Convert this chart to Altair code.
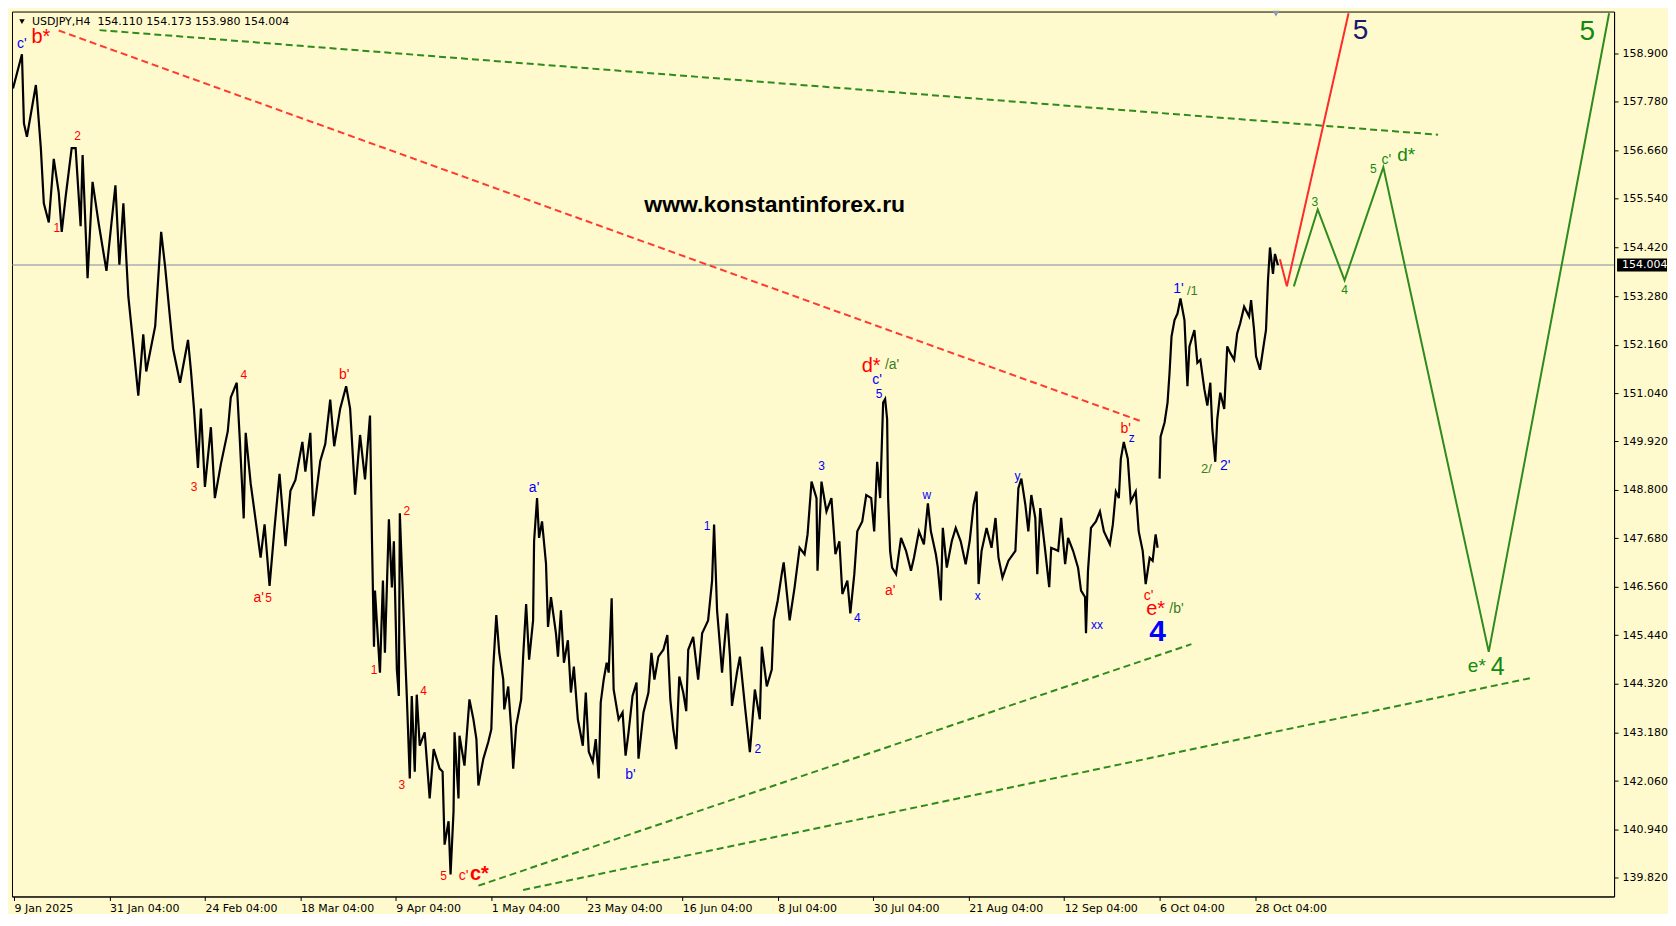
import altair as alt
import pandas as pd

W, H = 1604, 886

# ---------------- price path (bar index, price) ----------------
path_jan_apr = [
    (1, 158.09), (10, 158.88), (12, 157.28), (15, 156.97), (24, 158.17), (25, 157.92), (29, 156.71),
    (32, 155.43), (37, 154.99), (42, 156.46), (47, 155.68), (50, 154.77), (54, 155.59), (60, 156.71),
    (64, 156.71), (69, 154.90), (71, 156.55), (76, 153.70), (81, 155.93), (87, 154.99), (95, 153.87),
    (104, 155.85), (108, 154.01), (112, 155.43), (117, 153.27), (122, 152.15), (127, 150.98),
    (132, 152.40), (135, 151.54), (144, 152.59), (150, 154.77), (154, 153.96), (159, 152.75),
    (162, 152.06), (169, 151.28), (177, 152.27), (180, 151.54), (183, 150.68), (187, 149.31),
    (190, 150.68), (194, 148.87), (200, 150.25), (204, 148.61), (210, 149.39), (217, 150.16),
    (220, 150.94), (226, 151.28), (229, 150.00), (233, 148.14), (235, 150.12), (240, 148.95),
    (245, 148.10), (250, 147.23), (254, 148.00), (259, 146.58), (264, 147.92), (269, 149.17),
    (275, 147.50), (280, 148.78), (285, 149.03), (292, 149.91), (295, 149.22), (300, 150.12),
    (303, 148.19), (310, 149.47), (315, 149.86), (320, 150.89), (324, 149.81), (330, 150.68),
    (336, 151.20), (340, 150.68), (345, 148.69), (350, 150.07), (355, 149.04), (360, 150.52),
]
path_apr_jul = [
    (362, 147.61), (364, 145.17), (365, 146.47), (370, 144.57), (373, 146.70), (375, 145.03),
    (379, 148.12), (382, 146.54), (384, 147.61), (387, 144.64), (389, 144.03), (390, 148.26),
    (392, 147.00), (395, 145.17), (397, 144.03), (400, 142.12), (402, 144.03), (405, 142.28),
    (407, 144.06), (410, 142.88), (415, 143.19), (420, 141.66), (424, 142.80), (430, 142.35),
    (433, 142.28), (435, 140.59), (439, 141.13), (441, 139.90), (444, 141.36), (445, 143.19),
    (449, 141.66), (450, 143.11), (455, 142.42), (460, 143.95), (464, 143.49), (467, 143.03),
    (469, 141.96), (474, 142.58), (479, 142.97), (482, 143.26), (484, 144.71), (487, 145.90),
    (490, 145.03), (494, 144.41), (495, 143.72), (499, 144.25), (502, 143.26), (504, 142.35),
    (507, 143.34), (512, 143.95), (514, 144.94), (517, 146.16), (520, 144.87), (524, 145.78),
    (525, 147.61), (528, 148.61), (530, 147.69), (533, 148.07), (537, 147.09), (539, 145.63),
    (542, 146.32), (547, 145.48), (549, 144.94), (552, 146.01), (555, 144.80), (559, 145.32),
    (562, 144.11), (565, 144.71), (569, 143.49), (574, 142.88), (577, 144.11), (580, 142.74),
    (584, 142.51), (587, 143.03), (590, 142.12), (592, 143.88), (595, 144.41), (598, 144.80),
    (600, 144.57), (603, 146.29), (605, 144.18), (610, 143.49), (614, 143.65), (617, 142.65),
    (620, 143.19), (624, 144.03), (628, 144.34), (630, 142.58), (635, 143.65), (640, 144.11),
    (643, 145.03), (646, 144.41), (650, 144.94), (655, 145.10), (659, 145.44), (662, 143.95),
    (665, 143.26), (668, 142.80), (671, 144.48), (675, 144.11), (678, 143.68), (680, 145.10),
    (685, 145.40), (690, 144.41), (694, 145.48), (697, 145.63), (700, 145.78), (704, 146.70),
    (706, 148.00), (709, 146.01), (712, 145.17), (714, 144.57), (719, 145.94), (722, 144.94),
    (724, 143.80), (729, 144.57), (732, 144.94), (737, 143.80), (742, 142.73), (747, 144.18),
    (752, 143.49), (754, 145.17), (759, 144.25), (764, 144.64), (766, 145.78), (770, 146.24),
    (774, 146.85), (776, 147.12), (782, 145.78), (787, 146.55), (792, 147.46), (797, 147.31),
    (800, 147.77), (804, 148.99), (809, 148.61), (810, 146.93), (814, 148.99), (819, 148.30),
    (824, 148.61), (828, 147.31), (832, 147.61), (835, 146.39), (840, 146.70), (843, 145.94),
    (847, 146.85), (850, 147.84), (855, 148.07), (859, 148.68), (864, 148.61), (867, 147.84),
    (870, 149.45), (873, 148.61), (876, 150.82),
]
path_jul_oct = [
    (878, 150.90), (880, 150.44), (881, 148.61), (883, 147.39), (885, 147.00), (889, 146.85),
    (894, 147.69), (899, 147.39), (904, 146.93), (907, 147.23), (912, 147.84), (917, 147.54),
    (921, 148.49), (924, 147.84), (929, 147.31), (931, 147.00), (934, 146.24), (936, 147.92),
    (940, 147.00), (945, 147.61), (949, 147.92), (954, 147.61), (959, 147.08), (963, 147.61),
    (967, 148.46), (970, 148.76), (972, 146.62), (975, 147.39), (980, 147.92), (985, 147.46),
    (989, 148.15), (992, 147.23), (996, 146.77), (1002, 147.16), (1009, 147.39), (1012, 148.84),
    (1015, 149.06), (1019, 148.46), (1022, 147.84), (1025, 148.68), (1029, 148.15), (1031, 146.85),
    (1034, 148.38), (1039, 147.39), (1043, 146.55), (1045, 147.46), (1052, 147.39), (1055, 148.15),
    (1059, 147.08), (1062, 147.69), (1067, 147.39), (1072, 147.00), (1075, 146.47), (1079, 146.32),
    (1080, 145.48), (1082, 146.93), (1085, 147.92), (1090, 148.07), (1094, 148.30), (1098, 147.84),
    (1104, 147.54), (1107, 148.00), (1110, 148.76), (1113, 148.61), (1115, 149.52), (1118, 149.91),
    (1122, 149.52), (1125, 148.53), (1130, 148.76), (1133, 147.84), (1137, 147.39), (1140, 146.62),
    (1144, 147.23), (1147, 147.16), (1150, 147.77), (1152, 147.46),
]
path_oct_nov = [
    (1154, 149.06), (1155, 150.03), (1159, 150.36), (1162, 150.82), (1164, 151.51), (1166, 152.35),
    (1169, 152.73), (1172, 152.88), (1175, 153.23), (1179, 152.73), (1182, 151.20), (1184, 152.12),
    (1189, 152.50), (1192, 151.74), (1195, 151.81), (1199, 151.13), (1202, 150.75), (1205, 151.28),
    (1207, 150.21), (1210, 149.45), (1212, 150.44), (1215, 151.05), (1219, 150.67), (1222, 152.12),
    (1225, 151.97), (1229, 151.81), (1232, 152.42), (1235, 152.65), (1239, 153.04), (1244, 152.81),
    (1246, 153.19), (1249, 152.50), (1251, 151.89), (1255, 151.58), (1259, 152.20), (1261, 152.50),
    (1263, 153.65), (1265, 154.41), (1268, 153.80), (1270, 154.26), (1273, 154.00),
]

# ---------------- forecast paths ----------------
red_forecast_bar = [1275, 1282, 1344]
red_forecast_price = [154.14, 153.51, 159.83]
green_forecast_bar = [1289, 1313, 1340, 1379, 1485, 1606]
green_forecast_price = [153.51, 155.29, 153.65, 156.27, 145.05, 159.83]

# ---------------- dashed trend lines ----------------
trend_bar1 = [47, 88, 469, 514]
trend_price1 = [159.43, 159.44, 139.64, 139.54]
trend_bar2 = [1134, 1434, 1186, 1530]
trend_price2 = [150.40, 157.02, 145.23, 144.46]
trend_color = ["#FF3A30", "#2E8B1E", "#2E8B1E", "#2E8B1E"]

current_price = 154.004
header_text = "USDJPY,H4\u00a0\u00a0154.110 154.173 153.980 154.004"
watermark_text = "www.konstantinforex.ru"
watermark_bar, watermark_price = 767, 155.40

price_ticks = [158.9, 157.78, 156.66, 155.54, 154.42, 153.28, 152.16, 151.04, 149.92,
               148.8, 147.68, 146.56, 145.44, 144.32, 143.18, 142.06, 140.94, 139.82]
time_tick_bars = [2, 98, 194, 290, 386, 482, 578, 674, 770, 866, 962, 1058, 1154, 1250]
time_tick_labels = ["9 Jan 2025", "31 Jan 04:00", "24 Feb 04:00", "18 Mar 04:00", "9 Apr 04:00",
                    "1 May 04:00", "23 May 04:00", "16 Jun 04:00", "8 Jul 04:00", "30 Jul 04:00",
                    "21 Aug 04:00", "12 Sep 04:00", "6 Oct 04:00", "28 Oct 04:00"]

RED, BLUE, NAVY, GREEN, DKGREEN = "#FF0000", "#0000FF", "#191970", "#118A11", "#3A7D22"
# wave labels: text, bar, price, colour, font size, bold
wave_labels = [
    ("c'", 10, 159.13, BLUE, 14, False), ("b*", 29, 159.28, RED, 20, False),
    ("1", 45, 154.85, RED, 12, False), ("2", 66, 156.99, RED, 12, False),
    ("3", 183, 148.87, RED, 12, False), ("4", 233, 151.45, RED, 12, False),
    ("a'", 248, 146.30, RED, 14, False), ("5", 258, 146.30, RED, 12, False),
    ("b'", 334, 151.45, RED, 14, False), ("1", 364, 144.64, RED, 12, False),
    ("2", 397, 148.32, RED, 12, False), ("3", 392, 141.96, RED, 12, False),
    ("4", 414, 144.14, RED, 12, False), ("5", 434, 139.87, RED, 12, False),
    ("c'", 454, 139.87, RED, 14, False), ("c*", 470, 139.90, RED, 20, True),
    ("a'", 525, 148.85, BLUE, 14, False), ("b'", 622, 142.19, BLUE, 14, False),
    ("1", 699, 147.97, BLUE, 12, False), ("2", 750, 142.80, BLUE, 12, False),
    ("3", 814, 149.35, BLUE, 12, False), ("4", 850, 145.84, BLUE, 12, False),
    ("5", 872, 151.01, BLUE, 12, False), ("c'", 870, 151.34, BLUE, 14, False),
    ("d*", 864, 151.66, RED, 20, False), ("/a'", 885, 151.68, DKGREEN, 14, False),
    ("a'", 883, 146.47, RED, 14, False), ("w", 920, 148.67, BLUE, 12, False),
    ("x", 971, 146.35, BLUE, 12, False), ("y", 1011, 149.12, BLUE, 12, False),
    ("xx", 1091, 145.67, BLUE, 12, False), ("b'", 1120, 150.21, RED, 14, False),
    ("z", 1126, 150.00, BLUE, 12, False), ("c'", 1143, 146.35, RED, 14, False),
    ("e*", 1150, 146.05, RED, 20, False), ("/b'", 1171, 146.05, DKGREEN, 14, False),
    ("4", 1152, 145.51, BLUE, 30, True), ("1'", 1173, 153.46, BLUE, 14, False),
    ("/1", 1187, 153.40, DKGREEN, 13, False), ("2/", 1201, 149.29, DKGREEN, 13, False),
    ("2'", 1220, 149.35, BLUE, 14, False), ("5", 1356, 159.41, NAVY, 28, False),
    ("5", 1584, 159.39, GREEN, 28, False), ("3", 1310, 155.46, GREEN, 12, False),
    ("4", 1340, 153.42, GREEN, 12, False), ("5", 1369, 156.22, GREEN, 12, False),
    ("c'", 1382, 156.43, GREEN, 14, False), ("d*", 1402, 156.55, GREEN, 19, False),
    ("e*", 1473, 144.73, GREEN, 19, False), ("4", 1494, 144.71, GREEN, 25, False),
]

# ---------------- data frames ----------------
rows = []
for seg, path in enumerate([path_jan_apr + path_apr_jul + path_jul_oct, path_oct_nov]):
    for b, p in path:
        rows.append({"bar": b, "price": p, "seg": seg})
df_price = pd.DataFrame(rows)
df_red = pd.DataFrame({"bar": red_forecast_bar, "price": red_forecast_price})
df_green = pd.DataFrame({"bar": green_forecast_bar, "price": green_forecast_price})
df_trend = pd.DataFrame({"bar": trend_bar1, "price": trend_price1, "bar2": trend_bar2,
                         "price2": trend_price2, "color": trend_color})
df_labels = pd.DataFrame(wave_labels, columns=["text", "bar", "price", "color", "size", "bold"])
df_cur = pd.DataFrame({"price": [current_price], "text": [f"{current_price:.3f}"]})
df_wm = pd.DataFrame({"bar": [watermark_bar], "price": [watermark_price], "text": [watermark_text]})
df_one = pd.DataFrame({"text": [header_text], "bar": [1271]})

# ---------------- scales & axes ----------------
lab_arr = "[" + ",".join(f"'{t}'" for t in time_tick_labels) + "]"
pos_arr = "[" + ",".join(str(v) for v in time_tick_bars) + "]"
xscale = alt.Scale(domain=[0, 1611], nice=False, zero=False)
yscale = alt.Scale(domain=[139.39, 159.87], nice=False, zero=False)
xaxis = alt.Axis(values=time_tick_bars, labelExpr=f"{lab_arr}[indexof({pos_arr}, datum.value)]",
                 grid=False, tickSize=4, labelAlign="left", labelPadding=2, labelFont="DejaVu Sans",
                 labelFontSize=11, labelColor="black", domainColor="black", tickColor="black",
                 labelOverlap=False, labelBound=False, labelFlush=False)
yaxis = alt.Axis(values=price_ticks, format=".3f", orient="right", grid=False, tickSize=4,
                 labelPadding=4, labelFont="DejaVu Sans", labelFontSize=11, labelColor="black",
                 domainColor="black", tickColor="black", labelOverlap=False, labelBound=False,
                 labelFlush=False, labelBaseline="middle")
X = alt.X("bar:Q", scale=xscale, axis=xaxis, title=None)
Y = alt.Y("price:Q", scale=yscale, axis=yaxis, title=None)

cur_line = alt.Chart(df_cur).mark_rule(color="#7D8CA3", strokeWidth=1).encode(y=Y)

trends = alt.Chart(df_trend).mark_rule(strokeDash=[7, 4], strokeWidth=2).encode(
    x=X, y=Y, x2="bar2:Q", y2="price2:Q", color=alt.Color("color:N", scale=None))

price_line = alt.Chart(df_price).mark_line(color="black", strokeWidth=2.2).encode(
    x=X, y=Y, detail="seg:N")

red_line = alt.Chart(df_red).mark_line(color="#FF2A2A", strokeWidth=2).encode(x=X, y=Y)
green_line = alt.Chart(df_green).mark_line(color="#2E8B1E", strokeWidth=2).encode(x=X, y=Y)

lab_normal = alt.Chart(df_labels[~df_labels["bold"]]).mark_text(
    font="Liberation Sans", align="center", baseline="middle").encode(
    x=X, y=Y, text="text:N", color=alt.Color("color:N", scale=None),
    size=alt.Size("size:Q", scale=None))
lab_bold = alt.Chart(df_labels[df_labels["bold"]]).mark_text(
    font="Liberation Sans", fontWeight="bold", align="center", baseline="middle").encode(
    x=X, y=Y, text="text:N", color=alt.Color("color:N", scale=None),
    size=alt.Size("size:Q", scale=None))

watermark = alt.Chart(df_wm).mark_text(font="Liberation Sans", fontWeight="bold", fontSize=23,
                                       color="black", align="center", baseline="middle").encode(
    x=X, y=Y, text="text:N")

cur_box = alt.Chart(df_cur).mark_point(
    shape="M-1,-0.26L1,-0.26L1,0.26L-1,0.26Z", filled=True, color="black", opacity=1,
    size=2500, strokeWidth=0).encode(x=alt.value(W + 28), y=Y)
cur_text = alt.Chart(df_cur).mark_text(font="DejaVu Sans", fontSize=11, color="white",
                                       align="left", baseline="middle").encode(
    x=alt.value(W + 8), y=Y, text="text:N")

header = alt.Chart(df_one).mark_text(font="DejaVu Sans", fontSize=11, color="black",
                                     align="left", baseline="middle").encode(
    x=alt.value(20), y=alt.value(10), text="text:N")
header_tri = alt.Chart(df_one).mark_point(shape="triangle-down", filled=True, color="black",
                                          size=30, opacity=1).encode(
    x=alt.value(10), y=alt.value(10))
top_marker = alt.Chart(df_one).mark_point(shape="triangle-down", filled=True, color="#8A9AB0",
                                          size=45, opacity=1).encode(
    x=X, y=alt.value(2))

chart = alt.layer(
    cur_line, trends, price_line, red_line, green_line, lab_normal, lab_bold, watermark,
    cur_box, cur_text, header, header_tri, top_marker
).properties(width=W, height=H, padding=0, background="#FFFACD").configure_view(
    stroke="black", strokeWidth=1, fill="#FFFACD")

chart.save("out.html", embed_options={"renderer": "svg", "actions": False})
